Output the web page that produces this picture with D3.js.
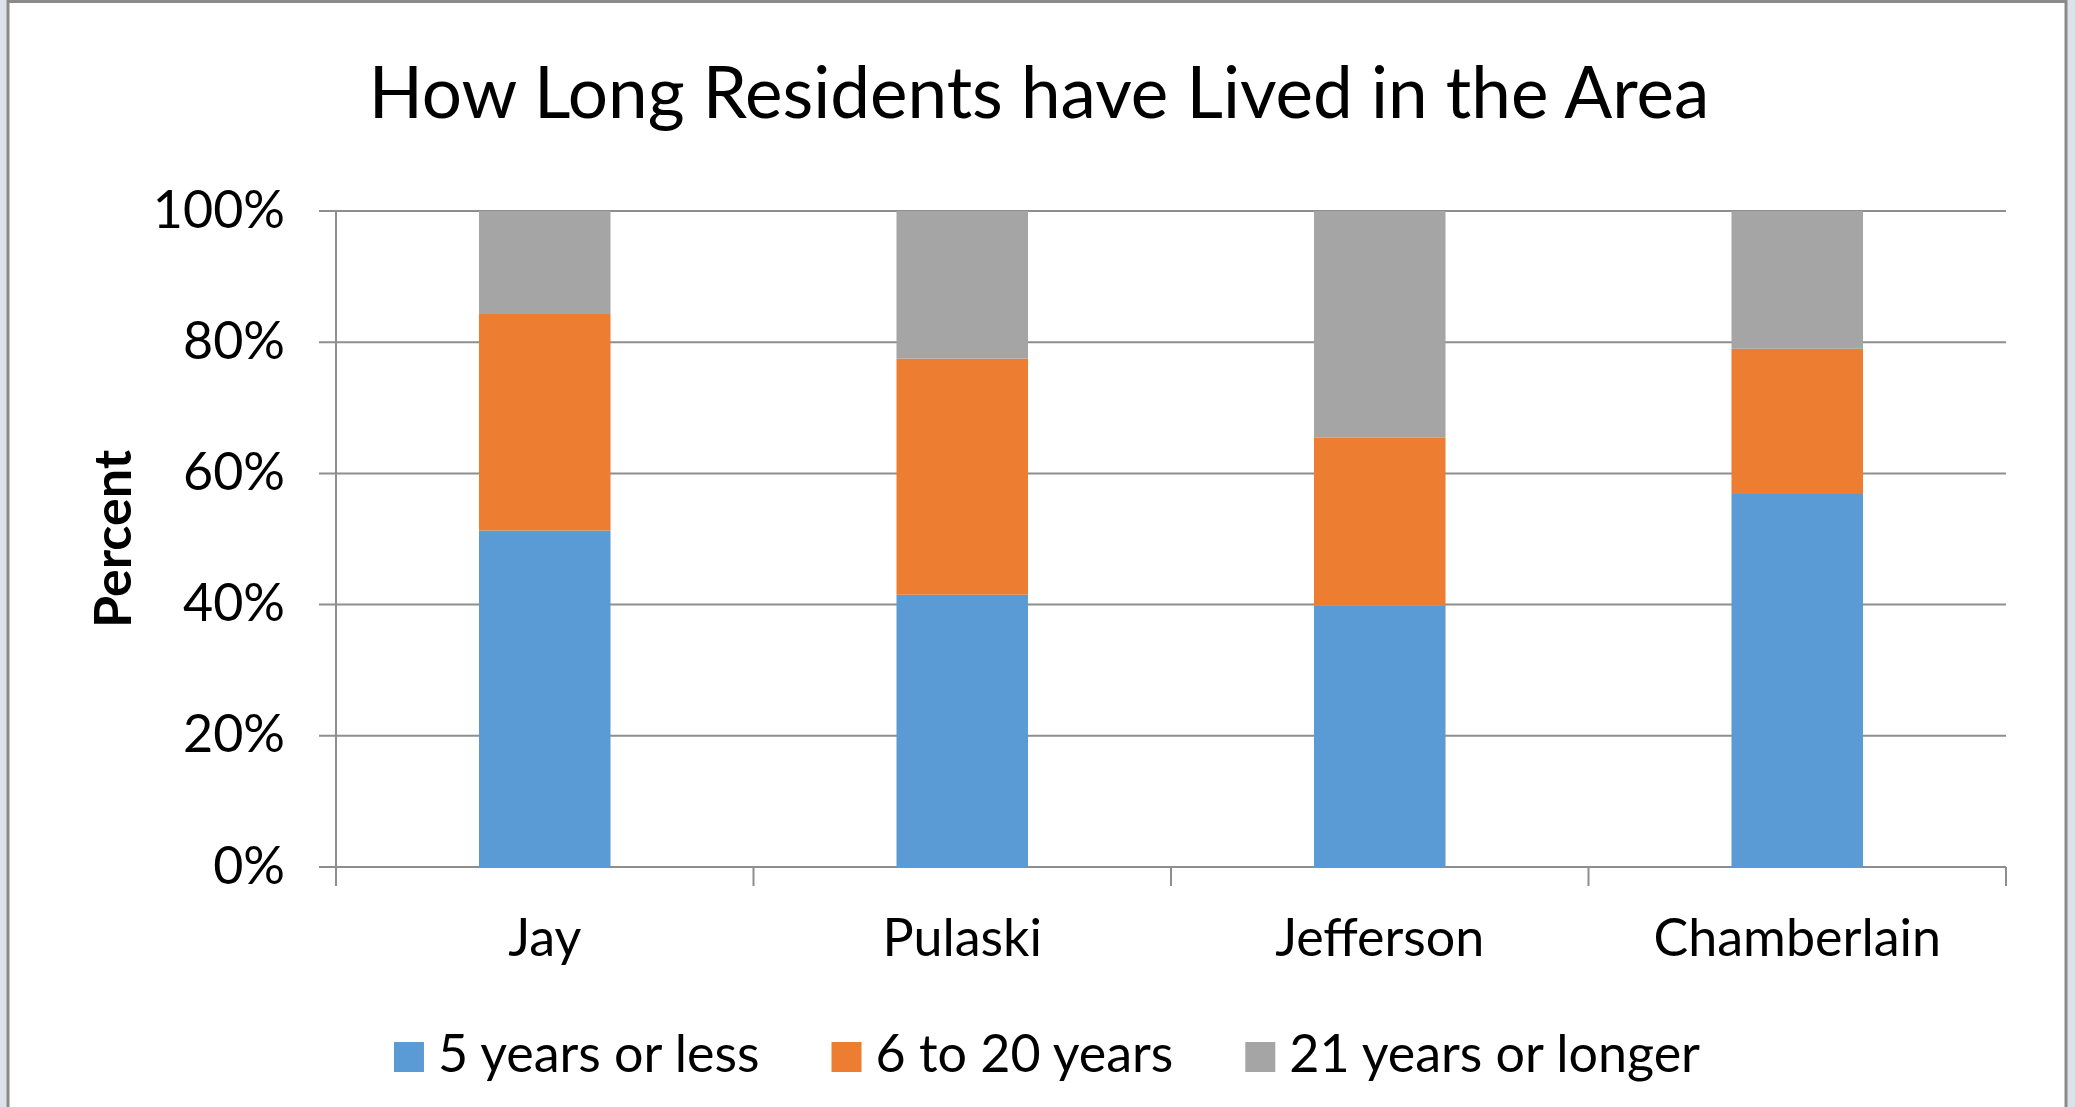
<!DOCTYPE html>
<html>
<head>
<meta charset="utf-8">
<script src="https://cdn.jsdelivr.net/npm/d3@7"></script>
<style>
  html, body { margin: 0; padding: 0; background: #dde2ea; }
  svg { display: block; }
  text { font-family: Lato, "Open Sans", sans-serif; fill: #000; }
</style>
</head>
<body>
<svg id="chart" width="2075" height="1107"></svg>
<script>
// chart values (percent of residents)
var towns = ["Jay", "Pulaski", "Jefferson", "Chamberlain"];
var fiveOrLess = [51.3, 41.5, 39.9, 57.0];
var sixTo20 = [33.0, 36.0, 25.6, 22.0];
var over21 = [15.7, 22.5, 34.5, 21.0];
var seriesNames = ["5 years or less", "6 to 20 years", "21 years or longer"];
var yTicks = [0, 20, 40, 60, 80, 100];

var COLORS = ["#5b9bd5", "#ed7d31", "#a5a5a5"];
var GRID = "#8e8e8e";

var svg = d3.select("#chart");

// white chart area with its grey frame
svg.append("rect")
    .attr("x", 8).attr("y", 1.5)
    .attr("width", 2058).attr("height", 1115)
    .style("fill", "#fff")
    .style("stroke", "#8a8a8a")
    .style("stroke-width", 3);

var plotLeft = 336, plotRight = 2006, plotTop = 211, plotBottom = 867;

var x = d3.scaleBand()
    .domain(towns)
    .range([plotLeft, plotRight])
    .paddingInner(0.685)
    .paddingOuter(0.3425);

var y = d3.scaleLinear().domain([0, 100]).range([plotBottom, plotTop]);

// rows for the stack
var rows = towns.map(function(t, i) {
    return { town: t, a: fiveOrLess[i], b: sixTo20[i], c: over21[i] };
});
var stacked = d3.stack().keys(["a", "b", "c"])(rows);

// grid lines + short ticks left of the axis
svg.append("g").selectAll("line")
    .data(yTicks)
    .enter().append("line")
    .attr("x1", plotLeft - 17)
    .attr("x2", plotRight)
    .attr("y1", function(d) { return y(d); })
    .attr("y2", function(d) { return y(d); })
    .style("stroke", GRID)
    .style("stroke-width", 2);

// y axis labels via d3 axis
var yAxis = svg.append("g")
    .attr("transform", "translate(" + (plotLeft - 17) + ",0)")
    .call(d3.axisLeft(y).tickValues(yTicks).tickSize(0).tickPadding(34)
        .tickFormat(function(d) { return d + "%"; }));
yAxis.select(".domain").remove();
yAxis.selectAll("text")
    .attr("dy", null)
    .attr("y", 16)
    .style("font-size", "52px")
    .style("font-family", "Lato, 'Open Sans', sans-serif")
    .style("fill", "#000");

// bars
svg.append("g").selectAll("g")
    .data(stacked)
    .enter().append("g")
    .style("fill", function(d, i) { return COLORS[i]; })
    .selectAll("rect")
    .data(function(d) { return d; })
    .enter().append("rect")
    .attr("x", function(d) { return x(d.data.town); })
    .attr("width", x.bandwidth())
    .attr("y", function(d) { return y(d[1]); })
    .attr("height", function(d) { return y(d[0]) - y(d[1]); });

// vertical axis line
svg.append("line")
    .attr("x1", plotLeft).attr("x2", plotLeft)
    .attr("y1", plotTop).attr("y2", plotBottom + 19)
    .style("stroke", GRID)
    .style("stroke-width", 2);

// x axis: ticks between categories
var xAxis = svg.append("g")
    .attr("transform", "translate(0," + plotBottom + ")")
    .call(d3.axisBottom(x).tickSize(0).tickPadding(0));
xAxis.select(".domain").remove();
xAxis.selectAll("text")
    .attr("dy", null)
    .attr("y", 89)
    .style("font-size", "52px")
    .style("font-family", "Lato, 'Open Sans', sans-serif")
    .style("fill", "#000");

var step = x.step();
svg.append("g").selectAll("line")
    .data(d3.range(towns.length + 1))
    .enter().append("line")
    .attr("x1", function(i) { return plotLeft + i * step; })
    .attr("x2", function(i) { return plotLeft + i * step; })
    .attr("y1", plotBottom)
    .attr("y2", plotBottom + 19)
    .style("stroke", GRID)
    .style("stroke-width", 2);

// title
svg.append("text")
    .text("How Long Residents have Lived in the Area")
    .attr("x", 1039)
    .attr("y", 118)
    .attr("text-anchor", "middle")
    .style("font-size", "71px");

// y axis title
svg.append("text")
    .text("Percent")
    .attr("transform", "translate(131,539) rotate(-90)")
    .attr("text-anchor", "middle")
    .style("font-size", "52px")
    .style("font-weight", "bold");

// legend, laid out by measured text widths and centred under the plot
var legend = svg.append("g");
var items = legend.selectAll("g")
    .data(seriesNames)
    .enter().append("g");
items.append("rect")
    .attr("width", 30).attr("height", 30)
    .attr("y", 1042)
    .style("fill", function(d, i) { return COLORS[i]; });
items.append("text")
    .text(function(d) { return d; })
    .attr("y", 1072)
    .style("font-size", "52px");

var GAP = 72;
var pos = 0, offsets = [];
items.each(function() {
    var w = d3.select(this).select("text").node().getComputedTextLength();
    offsets.push(pos);
    pos += 30 + 14 + w + GAP;
});
var total = pos - GAP;
var start = 1047 - total / 2;
items.each(function(d, i) {
    var g = d3.select(this);
    g.select("rect").attr("x", start + offsets[i]);
    g.select("text").attr("x", start + offsets[i] + 44);
});
</script>
</body>
</html>
